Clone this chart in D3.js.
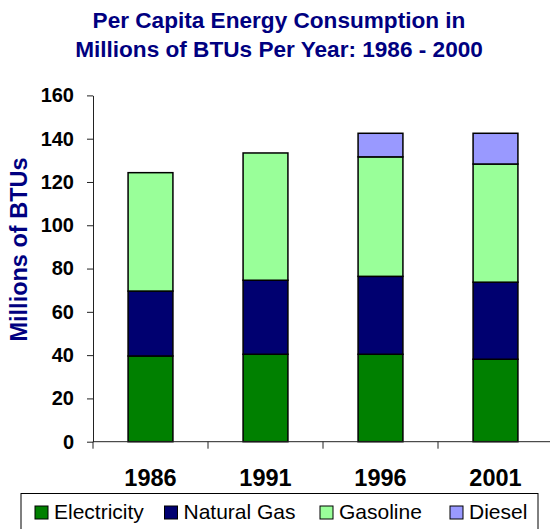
<!DOCTYPE html>
<html><head><meta charset="utf-8">
<script src="https://cdn.jsdelivr.net/npm/d3@7"></script>
<style>body{margin:0;background:#fff}svg{display:block}text{font-family:"Liberation Sans",Arial,sans-serif}</style>
</head><body><svg id="c" width="550" height="529"></svg>
<script>
const categories = ["1986", "1991", "1996", "2001"];
const seriesNames = ["Electricity", "Natural Gas", "Gasoline", "Diesel"];
const electricity = [39.6, 40.4, 40.4, 38.1];
const naturalGas = [30.0, 34.2, 36.0, 35.6];
const gasoline = [54.7, 58.8, 55.2, 54.6];
const diesel = [0, 0, 10.9, 14.2];
const yTicks = [0, 20, 40, 60, 80, 100, 120, 140, 160];
const titleLines = ["Per Capita Energy Consumption in", "Millions of BTUs Per Year: 1986 - 2000"];
const yTitle = "Millions of BTUs";
const colors = ["#008000", "#000070", "#99FF99", "#9999FF"];

const svg = d3.select("#c");
const rows = categories.map((c, i) => ({cat: c, "Electricity": electricity[i], "Natural Gas": naturalGas[i], "Gasoline": gasoline[i], "Diesel": diesel[i]}));
const stack = d3.stack().keys(seriesNames)(rows);

const x = d3.scaleBand().domain(categories).range([93, 553]).paddingInner(0.61).paddingOuter(0.305);
const y = d3.scaleLinear().domain([0, 160]).range([441.7, 95.4]);
const color = d3.scaleOrdinal().domain(seriesNames).range(colors);

// title
svg.selectAll("text.title").data(titleLines).join("text").attr("class", "title")
  .attr("x", 279).attr("y", (d, i) => 28 + i * 29)
  .attr("text-anchor", "middle").attr("font-size", 22.6).attr("font-weight", "bold").attr("fill", "#000080")
  .text(d => d);

// y title
svg.append("text").attr("transform", "translate(27,249.5) rotate(-90)")
  .attr("text-anchor", "middle").attr("font-size", 23.5).attr("font-weight", "bold").attr("fill", "#000080")
  .text(yTitle);

// bars
svg.append("g").selectAll("g").data(stack).join("g").attr("fill", d => color(d.key))
  .selectAll("rect").data(d => d.filter(p => p[1] - p[0] > 0)).join("rect")
  .attr("x", d => x(d.data.cat)).attr("width", x.bandwidth())
  .attr("y", d => y(d[1])).attr("height", d => y(d[0]) - y(d[1]))
  .attr("stroke", "#000").attr("stroke-width", 1.5);

// y axis
const ya = svg.append("g").attr("transform", "translate(93,0)")
  .call(d3.axisLeft(y).tickValues(yTicks).tickSize(6).tickPadding(13).tickSizeOuter(0));
ya.selectAll("text").attr("font-size", 20).attr("font-weight", "bold").attr("fill", "#000").attr("font-family", '"Liberation Sans",Arial,sans-serif');
ya.select(".domain").attr("stroke", "#222");
ya.selectAll(".tick line").attr("stroke", "#222");

// x axis line and category boundary ticks
svg.append("line").attr("x1", 93).attr("x2", 553).attr("y1", y(0)).attr("y2", y(0)).attr("stroke", "#222");
const bounds = d3.range(categories.length + 1).map(i => x.range()[0] + i * x.step());
svg.append("g").selectAll("line").data(bounds).join("line")
  .attr("x1", d => d).attr("x2", d => d).attr("y1", y(0)).attr("y2", y(0) + 7).attr("stroke", "#222");

// category labels
svg.append("g").selectAll("text").data(categories).join("text")
  .attr("x", d => x(d) + x.bandwidth() / 2).attr("y", 485.5)
  .attr("text-anchor", "middle").attr("font-size", 23.5).attr("font-weight", "bold").attr("fill", "#000")
  .text(d => d);

// legend
svg.append("rect").attr("x", 21).attr("y", 493.5).attr("width", 517).attr("height", 60)
  .attr("fill", "#fff").attr("stroke", "#000").attr("stroke-width", 1);
const legX = [35, 164.5, 320, 450];
const lg = svg.append("g").selectAll("g").data(seriesNames).join("g")
  .attr("transform", (d, i) => `translate(${legX[i]},0)`);
lg.append("rect").attr("x", 0).attr("y", 506).attr("width", 13).attr("height", 13)
  .attr("fill", d => color(d)).attr("stroke", "#000").attr("stroke-width", 1);
lg.append("text").attr("x", 19).attr("y", 518.5).attr("font-size", 21).attr("fill", "#000").text(d => d);
</script></body></html>
